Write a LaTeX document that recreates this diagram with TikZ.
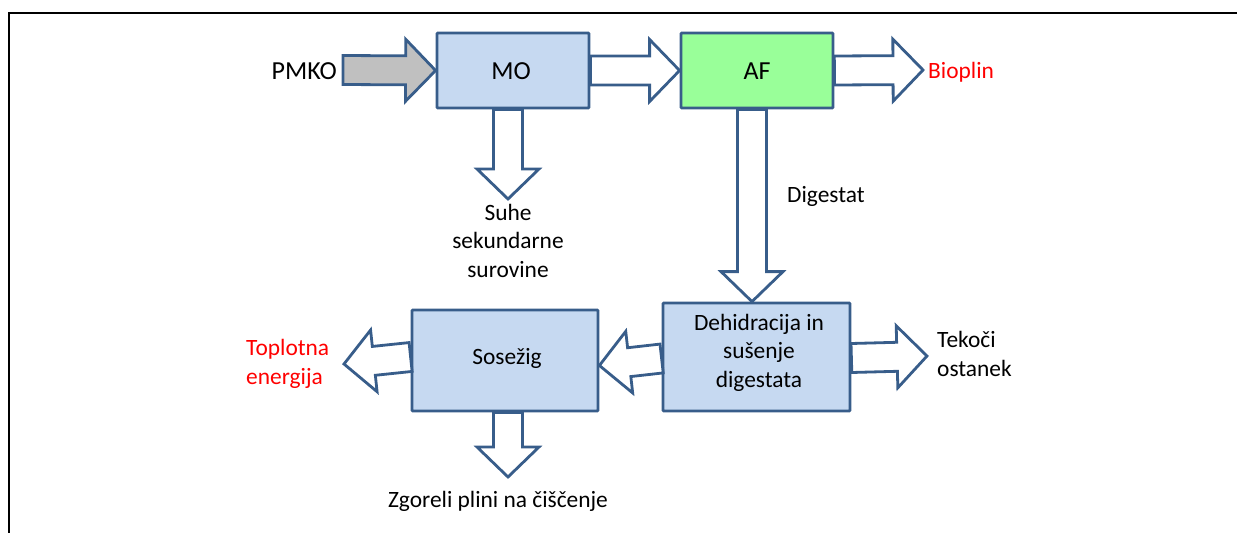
\documentclass[tikz,border=0pt]{standalone}
\usepackage{fontspec}
\setmainfont{Carlito}
\usetikzlibrary{calc}
\definecolor{edgeblue}{RGB}{56,93,138}
\definecolor{boxblue}{RGB}{198,217,241}
\definecolor{afgreen}{RGB}{153,255,153}
\definecolor{pmkogray}{RGB}{192,192,192}
\tikzset{
  procbox/.style={draw=edgeblue, line width=2.8pt, fill=boxblue, rounded corners=0.8pt, inner sep=0pt},
  blockarrow/.style={draw=edgeblue, line width=2.8pt, fill=white, line join=miter},
  lbl/.style={inner sep=0pt, font=\fontsize{23.4}{28.5}\selectfont},
  biglbl/.style={inner sep=0pt, font=\fontsize{26}{31}\selectfont},
  redlbl/.style={lbl, text=red},
  frameline/.style={draw=black, line width=2pt}
}
% block arrow from #2 to #3, style #1
\newcommand\blockarr[3]{%
  \path (#2) coordinate (ba@s) (#3) coordinate (ba@e);
  \path ($(ba@e)!30pt!(ba@s)$) coordinate (ba@h);
  \draw[blockarrow,#1]
    ($(ba@s)!14.5pt!90:(ba@e)$) --
    ($(ba@h)!14.5pt!-90:(ba@s)$) --
    ($(ba@h)!31pt!-90:(ba@s)$) --
    (ba@e) --
    ($(ba@h)!31pt!90:(ba@s)$) --
    ($(ba@h)!14.5pt!90:(ba@s)$) --
    ($(ba@s)!14.5pt!-90:(ba@e)$) -- cycle;
}
\begin{document}
\begin{tikzpicture}[x=1pt,y=-1pt]
\useasboundingbox (0,0) rectangle (1237,533);
% frame
\coordinate (fTL) at (9,13);
\coordinate (fTR) at (1237,13);
\coordinate (fBL) at (9,533);
\draw[frameline] (fTR) -- (fTL) -- (fBL);

% boxes
\node[procbox, minimum width=152pt, minimum height=75pt] (MO) at (513,70.5) {};
\node[procbox, fill=afgreen, minimum width=152pt, minimum height=75pt] (AF) at (757,70.5) {};
\node[procbox, minimum width=187pt, minimum height=108pt] (DH) at (756.5,357) {};
\node[procbox, minimum width=186pt, minimum height=101pt] (SO) at (505,360.5) {};

% free arrow ends
\coordinate (pmkoStart) at (343,70);
\coordinate (bioEnd) at (923,70);
\coordinate (suheEnd) at (508,199);
\coordinate (tekEnd) at (927,356);
\coordinate (topEnd) at (344,364);
\coordinate (zgoEnd) at (508,477);

% arrows
\blockarr{fill=pmkogray}{pmkoStart}{MO.west}
\blockarr{}{MO.east}{AF.west}
\blockarr{}{AF.east}{bioEnd}
\blockarr{}{[xshift=-5pt]MO.south}{suheEnd}
\blockarr{}{[xshift=-5pt]AF.south}{[xshift=-4.5pt]DH.north}
\blockarr{}{[yshift=-1pt]DH.east}{tekEnd}
\blockarr{}{[yshift=-1.5pt]DH.west}{[yshift=-5pt]SO.east}
\blockarr{}{[yshift=3.5pt]SO.west}{topEnd}
\blockarr{}{[xshift=3pt]SO.south}{zgoEnd}

% texts
\node[biglbl, anchor=base east] (tPMKO) at (337,79) {PMKO};
\node[biglbl, anchor=base] (tMO) at (511,79) {MO};
\node[biglbl, anchor=base] (tAF) at (757,79) {AF};
\node[redlbl, anchor=base west] (tBio) at (928,78) {Bioplin};
\node[lbl, anchor=base, align=center] (tSuhe) at (508,277) {Suhe\\sekundarne\\surovine};
\node[lbl, anchor=base west] (tDig) at (787,202) {Digestat};
\node[lbl, anchor=base, align=center] (tDH) at (759,387) {Dehidracija in\\sušenje\\digestata};
\node[lbl, anchor=base west, align=left] (tTek) at (937,376) {Tekoči\\ostanek};
\node[lbl, anchor=base] (tSO) at (507,364) {Sosežig};
\node[redlbl, anchor=base west, align=left] (tTop) at (246,384) {Toplotna\\energija};
\node[lbl, anchor=base] (tZgo) at (498,507) {Zgoreli plini na čiščenje};
\end{tikzpicture}
\end{document}
